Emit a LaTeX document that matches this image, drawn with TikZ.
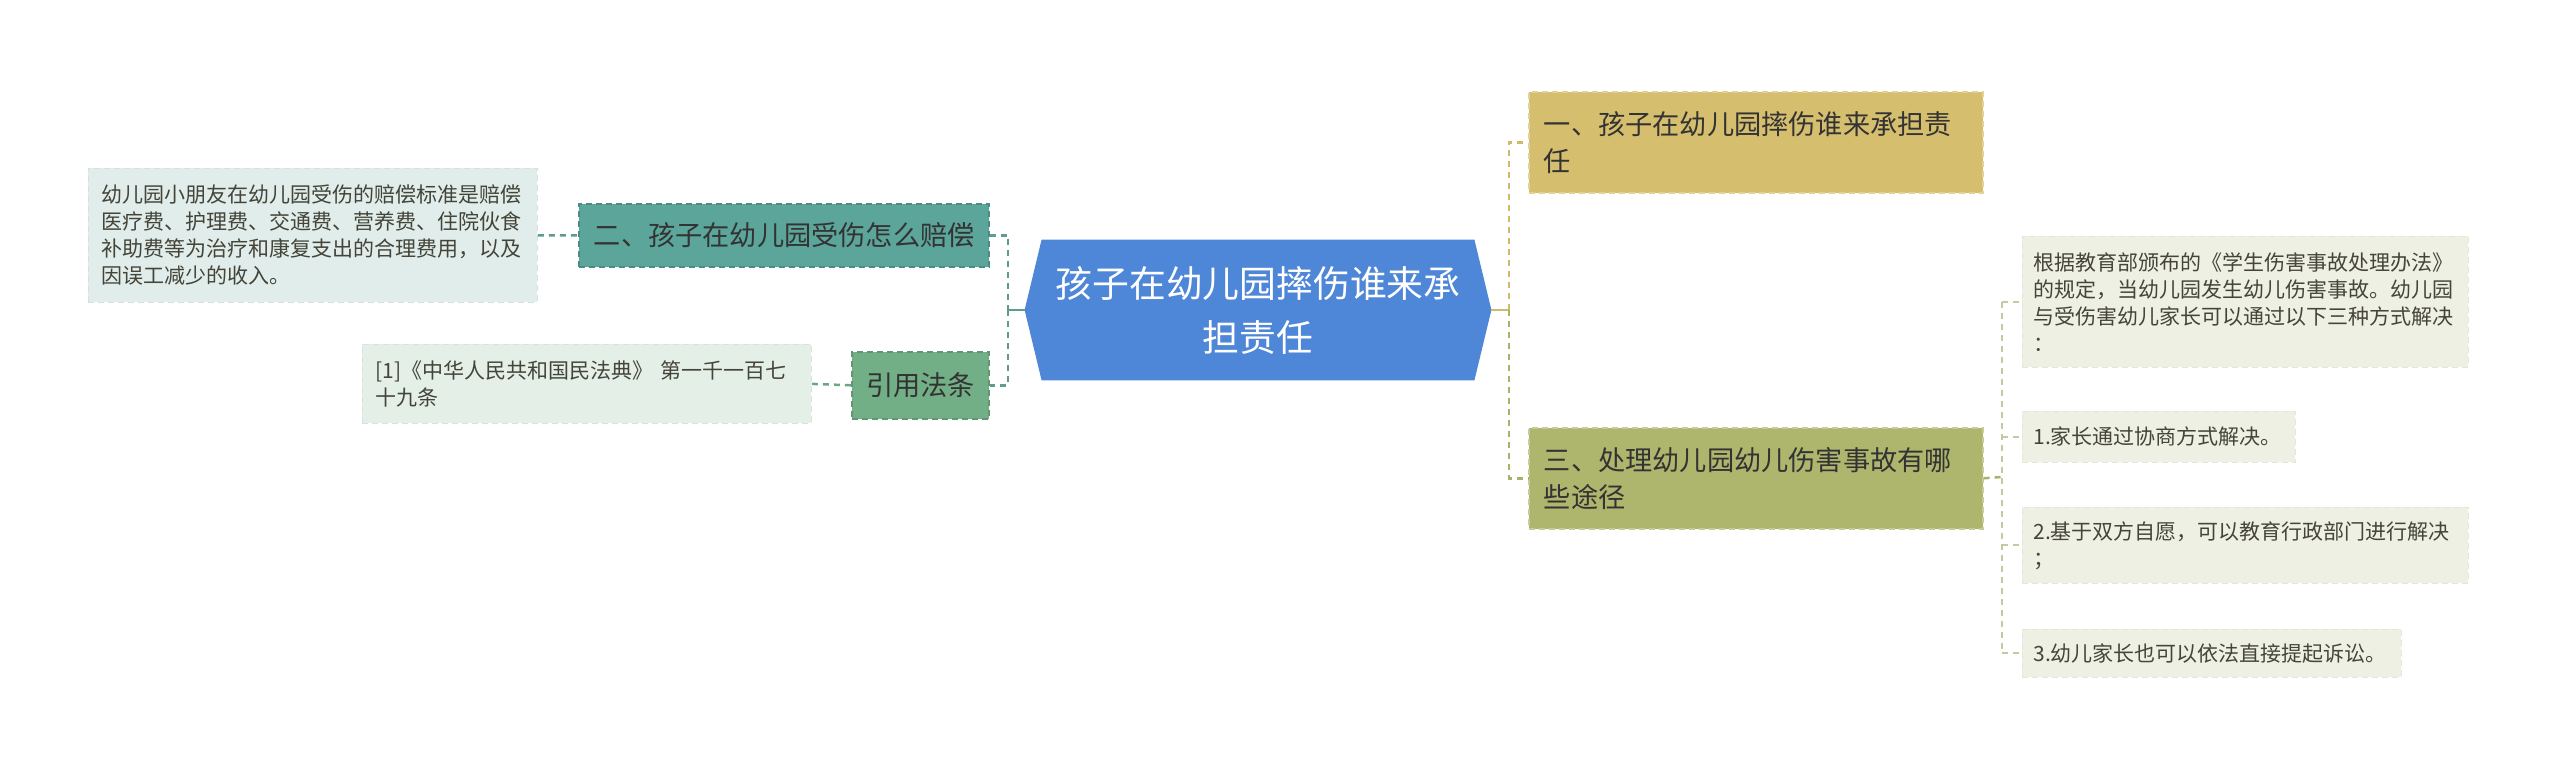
\documentclass[tikz,border=0pt]{standalone}
\usepackage{fontspec}
\setmainfont{Noto Sans CJK SC}
\usetikzlibrary{backgrounds}
\definecolor{cblue}{HTML}{4E86D8}
\definecolor{cgold}{HTML}{D5BE6E}
\definecolor{colive}{HTML}{AEB56D}
\definecolor{cteal}{HTML}{5BA59A}
\definecolor{cgreen}{HTML}{72AF87}
\definecolor{cltealbg}{HTML}{E0EDEB}
\definecolor{clgreenbg}{HTML}{E4EFE8}
\definecolor{cleafbg}{HTML}{EEF0E3}
\definecolor{ctxt}{HTML}{333333}
\definecolor{cleaftxt}{HTML}{444438}
\definecolor{ctealline}{HTML}{5D9C8E}
\definecolor{cgreenline}{HTML}{6FA585}
\definecolor{cgoldline}{HTML}{CFBA6A}
\definecolor{coliveline}{HTML}{AAB26A}
\definecolor{cleafline}{HTML}{C5C9A0}
\begin{document}
\begin{tikzpicture}[x=0.5pt,y=-0.5pt,
  bigbox/.style={rectangle, anchor=north west, align=left, inner ysep=0pt, inner xsep=7.5pt,
    font=\fontsize{13.6}{18.5}\selectfont, text=ctxt, dash pattern=on 3pt off 2pt, line width=0.8pt},
  smallbox/.style={rectangle, anchor=north west, align=left, inner ysep=0pt, inner xsep=5.5pt,
    font=\fontsize{10.5}{13.5}\selectfont, text=cleaftxt},
  conn/.style={line width=1.25pt, dash pattern=on 3pt off 2.5pt},
  leafconn/.style={line width=0.9pt, dash pattern=on 3pt off 2.5pt, cleafline}
]
\useasboundingbox (0,0) rectangle (2560,769);

% center node
\node[text=white, align=center, font=\fontsize{18.4}{27}\selectfont,
  minimum width=233pt, minimum height=70pt, inner sep=0pt] (c) at (1258,310)
  {孩子在幼儿园摔伤谁来承\\担责任};
\begin{scope}[on background layer]
\fill[cblue] (c.west) -- ([xshift=8.5pt]c.north west) -- ([xshift=-8.5pt]c.north east)
  -- (c.east) -- ([xshift=-8.5pt]c.south east) -- ([xshift=8.5pt]c.south west) -- cycle;
\end{scope}

% left side
\node[bigbox, fill=cteal, draw=cteal!85!black, text width=190pt, minimum height=31.5pt] (er) at (578,203)
  {二、孩子在幼儿园受伤怎么赔偿};
\node[bigbox, fill=cgreen, draw=cgreen!85!black, inner xsep=7.25pt, text width=54pt, minimum height=33.5pt] (yy) at (851,351)
  {引用法条};
\node[smallbox, fill=cltealbg, draw=cltealbg!95!black, dash pattern=on 3pt off 2pt, inner xsep=6.5pt, text width=211.5pt, minimum height=67pt] (l0) at (88,168)
  {幼儿园小朋友在幼儿园受伤的赔偿标准是赔偿\\医疗费、护理费、交通费、营养费、住院伙食\\补助费等为治疗和康复支出的合理费用，以及\\因误工减少的收入。};
\node[smallbox, fill=clgreenbg, draw=clgreenbg!95!black, dash pattern=on 3pt off 2pt, inner xsep=6.5pt, text width=211.5pt, minimum height=39.5pt] (ct) at (362,344)
  {[1]《中华人民共和国民法典》 第一千一百七\\十九条};

% right side
\node[bigbox, fill=cgold, draw=cgold!70!white, text width=212pt, minimum height=50.5pt] (yi) at (1528,91)
  {一、孩子在幼儿园摔伤谁来承担责\\任};
\node[bigbox, fill=colive, draw=colive!70!white, text width=212pt, minimum height=50.5pt] (san) at (1528,427)
  {三、处理幼儿园幼儿伤害事故有哪\\些途径};

\node[smallbox, fill=cleafbg, draw=cleafbg!96!black, dash pattern=on 3pt off 2pt, text width=212pt, minimum height=65.5pt] (f1) at (2022,236)
  {根据教育部颁布的《学生伤害事故处理办法》\\的规定，当幼儿园发生幼儿伤害事故。幼儿园\\与受伤害幼儿家长可以通过以下三种方式解决\\：};
\node[smallbox, fill=cleafbg, draw=cleafbg!96!black, dash pattern=on 3pt off 2pt, text width=125.5pt, minimum height=25.5pt] (f2) at (2022,411)
  {1.家长通过协商方式解决。};
\node[smallbox, fill=cleafbg, draw=cleafbg!96!black, dash pattern=on 3pt off 2pt, text width=212pt, minimum height=38pt] (f3) at (2022,507)
  {2.基于双方自愿，可以教育行政部门进行解决\\；};
\node[smallbox, fill=cleafbg, draw=cleafbg!96!black, dash pattern=on 3pt off 2pt, text width=178.5pt, minimum height=24pt] (f4) at (2022,629)
  {3.幼儿家长也可以依法直接提起诉讼。};

% junction coordinates
\coordinate (lj) at (1008,310);
\coordinate (rj) at (1509,310);
\coordinate (sj) at (2002,477);

% left connectors
\draw[ctealline, line width=1.25pt] (c.west) -- (lj);
\draw[conn, ctealline] (er.east) -- (er.east -| lj) -- (lj);
\draw[conn, ctealline] (lj) -- (yy.east -| lj) -- (yy.east);
\draw[conn, ctealline] (l0.east) -- (er.west);
\draw[conn, cgreenline] (ct.east) -- (yy.west);

% right connectors
\draw[cgoldline, line width=1.25pt] (c.east) -- (rj);
\draw[conn, cgoldline] (rj) -- (yi.west -| rj) -- (yi.west);
\draw[conn, coliveline] (rj) -- (san.west -| rj) -- (san.west);

% leaf connectors
\draw[conn, coliveline] (san.east) -- (sj);
\draw[leafconn] (f1.west -| sj) -- (f4.west -| sj);
\draw[leafconn] (f1.west -| sj) -- (f1.west);
\draw[leafconn] (f2.west -| sj) -- (f2.west);
\draw[leafconn] (f3.west -| sj) -- (f3.west);
\draw[leafconn] (f4.west -| sj) -- (f4.west);
\end{tikzpicture}
\end{document}
